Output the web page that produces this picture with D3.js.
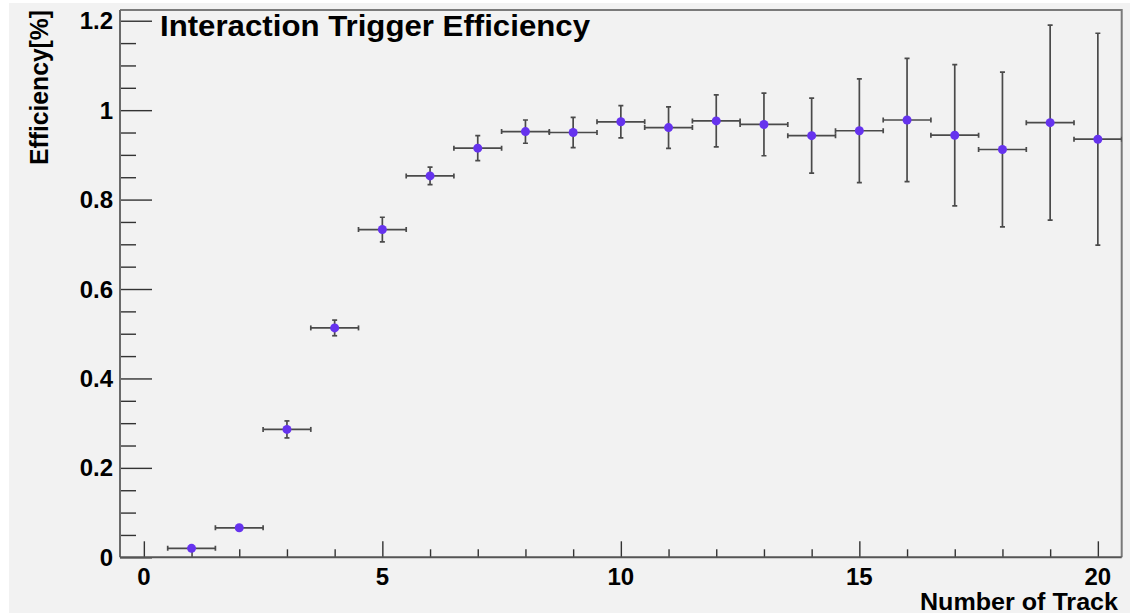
<!DOCTYPE html>
<html>
<head>
<meta charset="utf-8">
<script src="https://cdn.jsdelivr.net/npm/d3@7/dist/d3.min.js"></script>
<style>
  html, body { margin: 0; padding: 0; background: #ffffff; }
  svg { display: block; }
  text { font-family: "Liberation Sans", Arial, Helvetica, sans-serif; font-weight: bold; fill: #000; }
</style>
</head>
<body>
<svg id="chart" width="1130" height="615"></svg>
<script>
// Trigger efficiency per track multiplicity (one bin per track count)
const tracks = [1, 2, 3, 4, 5, 6, 7, 8, 9, 10, 11, 12, 13, 14, 15, 16, 17, 18, 19, 20];
const efficiency = [0.020, 0.066, 0.286, 0.513, 0.733, 0.853, 0.915, 0.952, 0.950, 0.974,
                    0.961, 0.976, 0.968, 0.943, 0.954, 0.978, 0.944, 0.912, 0.972, 0.935];
const efficiencyErr = [0.002, 0.003, 0.019, 0.0175, 0.0275, 0.0197, 0.028, 0.026, 0.034, 0.036,
                       0.0465, 0.058, 0.070, 0.084, 0.116, 0.138, 0.158, 0.173, 0.218, 0.237];
const binHalfWidth = 0.5;
const xMajorTicks = [0, 5, 10, 15, 20];
const yMajorTicks = [0, 0.2, 0.4, 0.6, 0.8, 1.0, 1.2];

const titleText = "Interaction Trigger Efficiency";
const xTitle = "Number of Track";
const yTitle = "Efficiency[%]";

const svg = d3.select("#chart");
const W = 1130, H = 615;
const frame = { left: 120, right: 1121.7, top: 10, bottom: 557.3 };

// Canvas pad
svg.append("rect").attr("x", 9).attr("y", 3).attr("width", W - 9).attr("height", 610)
  .attr("fill", "#f2f2f2");

const x = d3.scaleLinear().domain([-0.5, 20.5]).range([frame.left, frame.right]);
const y = d3.scaleLinear().domain([0, 1.224]).range([frame.bottom, frame.top]);

// Frame (top and right edges)
svg.append("path")
  .attr("d", `M${frame.left},${frame.top}H${frame.right}V${frame.bottom}`)
  .attr("fill", "none").attr("stroke", "#7a7a7a").attr("stroke-width", 2);

// X axis: ticks drawn inward (upward)
const xMinor = d3.range(0, 21, 1).filter(v => !xMajorTicks.includes(v));
const xAxisG = svg.append("g").attr("transform", `translate(0,${frame.bottom})`);
xAxisG.call(d3.axisTop(x).tickValues(xMinor).tickSize(8).tickFormat(""))
  .call(g => g.select(".domain").remove());
xAxisG.append("g").call(d3.axisTop(x).tickValues(xMajorTicks).tickSize(16).tickFormat(""))
  .call(g => g.select(".domain").remove());
xAxisG.selectAll("line").attr("stroke", "#333").attr("stroke-width", 1.4);

// X tick labels below the axis
svg.append("g").selectAll("text").data(xMajorTicks).join("text")
  .attr("x", d => x(d)).attr("y", 584.5)
  .attr("text-anchor", "middle").attr("font-size", 24)
  .text(d => d);

// Y axis: ticks drawn inward (rightward)
const yMinor = d3.range(0, 25).map(i => +(i * 0.05).toFixed(2)).filter(v => !yMajorTicks.some(m => Math.abs(m - v) < 1e-9));
const yAxisG = svg.append("g").attr("transform", `translate(${frame.left},0)`);
yAxisG.call(d3.axisRight(y).tickValues(yMinor).tickSize(16).tickFormat(""))
  .call(g => g.select(".domain").remove());
yAxisG.append("g").call(d3.axisRight(y).tickValues(yMajorTicks).tickSize(32).tickFormat(""))
  .call(g => g.select(".domain").remove());
yAxisG.selectAll("line").attr("stroke", "#333").attr("stroke-width", 1.4);

svg.append("g").selectAll("text").data(yMajorTicks).join("text")
  .attr("x", 113).attr("y", d => y(d) + 8.5)
  .attr("text-anchor", "end").attr("font-size", 24)
  .text(d => d === 0 ? "0" : (d === 1 ? "1" : d.toFixed(1)));

// Axis lines
svg.append("line").attr("x1", frame.left).attr("x2", frame.left)
  .attr("y1", frame.top).attr("y2", frame.bottom)
  .attr("stroke", "#6a6a6a").attr("stroke-width", 2);
svg.append("line").attr("x1", frame.left).attr("x2", frame.right)
  .attr("y1", frame.bottom).attr("y2", frame.bottom)
  .attr("stroke", "#555").attr("stroke-width", 2);

// Data: error bars and markers
svg.append("clipPath").attr("id", "plotClip").append("rect")
  .attr("x", frame.left).attr("y", frame.top)
  .attr("width", frame.right - frame.left).attr("height", frame.bottom - frame.top);

const pts = tracks.map((t, i) => ({ t, v: efficiency[i], e: efficiencyErr[i] }));
const dataG = svg.append("g").attr("clip-path", "url(#plotClip)");
const capHalf = 2.5;
const barColor = "#4a4a4a";

const bars = dataG.selectAll("g.bar").data(pts).join("g").attr("class", "bar")
  .attr("stroke", barColor).attr("stroke-width", 1.7).attr("fill", "none");
// horizontal (bin width) bar
bars.append("line")
  .attr("x1", d => x(d.t - binHalfWidth)).attr("x2", d => x(d.t + binHalfWidth))
  .attr("y1", d => y(d.v)).attr("y2", d => y(d.v));
bars.append("line")
  .attr("x1", d => x(d.t - binHalfWidth)).attr("x2", d => x(d.t - binHalfWidth))
  .attr("y1", d => y(d.v) - capHalf).attr("y2", d => y(d.v) + capHalf);
bars.append("line")
  .attr("x1", d => x(d.t + binHalfWidth)).attr("x2", d => x(d.t + binHalfWidth))
  .attr("y1", d => y(d.v) - capHalf).attr("y2", d => y(d.v) + capHalf);
// vertical (statistical) bar
bars.append("line")
  .attr("x1", d => x(d.t)).attr("x2", d => x(d.t))
  .attr("y1", d => y(d.v - d.e)).attr("y2", d => y(d.v + d.e));
bars.append("line")
  .attr("x1", d => x(d.t) - capHalf).attr("x2", d => x(d.t) + capHalf)
  .attr("y1", d => y(d.v + d.e)).attr("y2", d => y(d.v + d.e));
bars.append("line")
  .attr("x1", d => x(d.t) - capHalf).attr("x2", d => x(d.t) + capHalf)
  .attr("y1", d => y(d.v - d.e)).attr("y2", d => y(d.v - d.e));

dataG.selectAll("circle").data(pts).join("circle")
  .attr("cx", d => x(d.t)).attr("cy", d => y(d.v)).attr("r", 4.5)
  .attr("fill", "#6633ee");

// Titles
svg.append("text").attr("x", 160).attr("y", 36).attr("font-size", 30)
  .attr("textLength", 430).attr("lengthAdjust", "spacingAndGlyphs")
  .text(titleText);

svg.append("text").attr("x", 1118).attr("y", 610).attr("font-size", 23)
  .attr("text-anchor", "end")
  .attr("textLength", 198).attr("lengthAdjust", "spacingAndGlyphs")
  .text(xTitle);

svg.append("text").attr("transform", "translate(48,10) rotate(-90)")
  .attr("text-anchor", "end").attr("font-size", 25)
  .attr("textLength", 155).attr("lengthAdjust", "spacingAndGlyphs")
  .text(yTitle);
</script>
</body>
</html>
